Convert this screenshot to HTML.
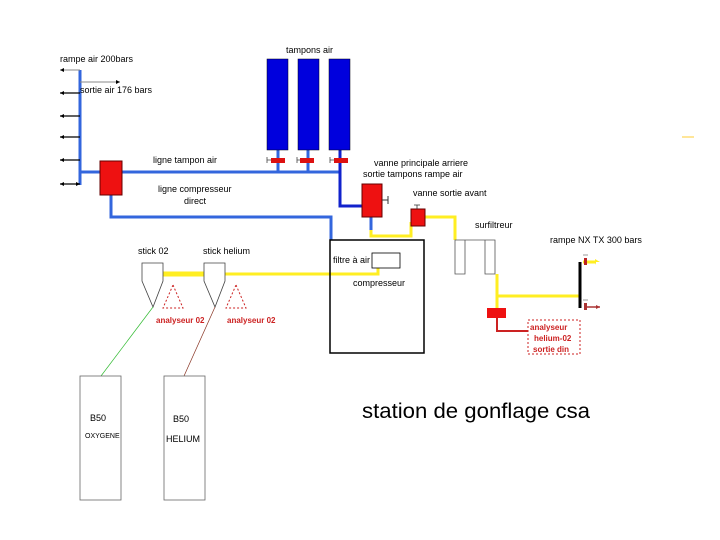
<!DOCTYPE html><html><head><style>body{margin:0;background:#fff}svg{display:block}text{font-family:"Liberation Sans",sans-serif;font-size:9px;fill:#000}</style></head><body>
<svg width="720" height="540" viewBox="0 0 720 540">
<g stroke="#3366dd" stroke-width="3" fill="none">
<path d="M80 70V185"/><path d="M80 172H340"/><path d="M278 150V172M308 150V172"/>
<path d="M111 195V217H331V240"/><path d="M371 217V230"/>
</g>
<path d="M340 150V206H362" stroke="#1122cc" stroke-width="3" fill="none"/>
<g stroke="#000" stroke-width="1.2"><path d="M80 93H60M80 116H60M80 137H60M80 160H60M80 184H60"/></g>
<path d="M80 70H60M80 82H120" stroke="#888"/>
<g fill="#000"><path d="M60 70l4-2v4zM60 93l4-2v4zM60 116l4-2v4zM60 137l4-2v4zM60 160l4-2v4zM60 184l4-2v4zM80 184l-4-2v4zM120 82l-4-2v4z"/></g>
<g fill="#0000dd" stroke="#001" stroke-width="0.5"><rect x="267" y="59" width="21" height="91"/><rect x="298" y="59" width="21" height="91"/><rect x="329" y="59" width="21" height="91"/></g>
<g fill="#dd1111"><rect x="271" y="158" width="14" height="5"/><rect x="300" y="158" width="14" height="5"/><rect x="334" y="158" width="14" height="5"/></g>
<path d="M267 157v6M297 157v6M330 157v6M267 160h4M297 160h3M330 160h4" stroke="#444" stroke-width="0.8"/>
<rect x="100" y="161" width="22" height="34" fill="#ee1111" stroke="#600"/>
<rect x="362" y="184" width="20" height="33" fill="#ee1111" stroke="#600"/>
<path d="M382 200h6M388 196v8" stroke="#333"/>
<g stroke="#ffee22" stroke-width="3" fill="none">
<path d="M371 230V236H411V222"/><path d="M425 217H455V240"/><path d="M497 274V296H580"/><path d="M497 296V308"/>
<path d="M163 274H378V262"/><path d="M583 262H596"/>
</g>
<path d="M163 274H205" stroke="#ffee22" stroke-width="5"/>
<path d="M596 262l4 0-5-3v6z" fill="#ffee22"/>
<rect x="411" y="209" width="14" height="17" fill="#ee1111" stroke="#600"/>
<path d="M414 205h6M417 205v4" stroke="#333" stroke-width="0.8"/>
<path d="M455 240v34h10v-34zM485 240v34h10v-34zM455 240h40" stroke="#555" stroke-width="0.8" fill="none"/>
<rect x="330" y="240" width="94" height="113" fill="none" stroke="#000" stroke-width="1.5"/>
<rect x="372" y="253" width="28" height="15" fill="#fff" stroke="#000" stroke-width="0.8"/>
<path d="M580 262V308" stroke="#000" stroke-width="3"/>
<rect x="584" y="258" width="3" height="7" fill="#b22"/><rect x="584" y="303" width="3" height="7" fill="#a33"/>
<path d="M587 307H600" stroke="#a33" stroke-width="1.5"/><path d="M600 307l-4-2v4z" fill="#a33"/>
<path d="M583 255h5M583 300h5" stroke="#333" stroke-width="0.6"/>
<rect x="487" y="308" width="19" height="10" fill="#ee1111"/>
<path d="M497 318V331H528" stroke="#cc2222" stroke-width="2" fill="none"/>
<rect x="528" y="320" width="52" height="34" fill="none" stroke="#cc2222" stroke-dasharray="2,2"/>
<path d="M142 263h21v18l-10 26l-11-26z" fill="#fff" stroke="#444" stroke-width="0.8"/>
<path d="M204 263h21v18l-10 26l-11-26z" fill="#fff" stroke="#444" stroke-width="0.8"/>
<path d="M173 285l10 23h-20z M236 285l10 23h-20z" fill="none" stroke="#cc2222" stroke-dasharray="2,2"/>
<path d="M153 307L101 376" stroke="#33bb33" stroke-width="0.7"/><path d="M215 307L184 376" stroke="#883322" stroke-width="0.7"/>
<rect x="80" y="376" width="41" height="124" fill="#fff" stroke="#666" stroke-width="0.8"/>
<rect x="164" y="376" width="41" height="124" fill="#fff" stroke="#666" stroke-width="0.8"/>
<path d="M682 137h12" stroke="#ffcc33" stroke-width="1"/>
<text x="60" y="62">rampe air 200bars</text>
<text x="80" y="93">sortie air 176 bars</text>
<text x="286" y="53">tampons air</text>
<text x="153" y="163">ligne tampon air</text>
<text x="158" y="192">ligne compresseur</text>
<text x="184" y="204">direct</text>
<text x="374" y="166">vanne principale  arriere</text>
<text x="363" y="177">sortie tampons rampe air</text>
<text x="413" y="196">vanne  sortie avant</text>
<text x="475" y="228">surfiltreur</text>
<text x="550" y="243">rampe NX TX 300 bars</text>
<text x="138" y="254">stick 02</text>
<text x="203" y="254">stick helium</text>
<text x="333" y="263">filtre à air</text>
<text x="353" y="286">compresseur</text>
<text x="156" y="323" style="fill:#cc2222;font-weight:bold;font-size:8px">analyseur 02</text><text x="227" y="323" style="fill:#cc2222;font-weight:bold;font-size:8px">analyseur 02</text>
<text x="530" y="330" style="fill:#cc2222;font-weight:bold;font-size:8px">analyseur</text><text x="534" y="341" style="fill:#cc2222;font-weight:bold;font-size:8px">helium-02</text><text x="533" y="352" style="fill:#cc2222;font-weight:bold;font-size:8px">sortie  din</text>
<text x="90" y="421">B50</text><text x="85" y="438" style="font-size:7px">OXYGENE</text>
<text x="173" y="422">B50</text><text x="166" y="442">HELIUM</text>
<text x="362" y="418" style="font-size:21px" textLength="228" lengthAdjust="spacingAndGlyphs">station de gonflage csa</text>
</svg></body></html>
